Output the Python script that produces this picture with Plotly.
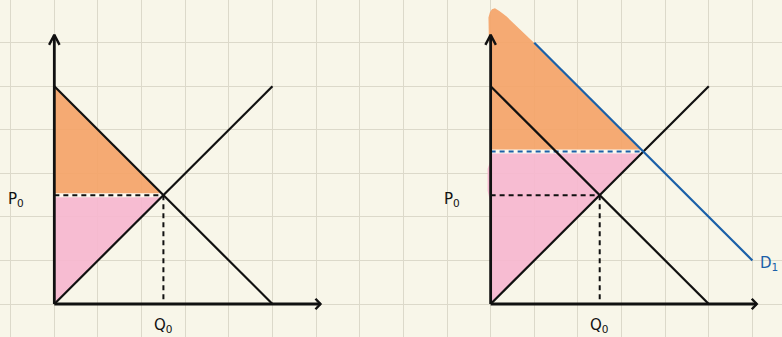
import plotly.graph_objects as go

# ---- data (panel-local coordinates: Q on x, P on y, in grid units) ----
demand_q = [0, 5]
demand_p = [5, 0]
supply_q = [0, 5]
supply_p = [0, 5]
demand1_q = [1, 6]
demand1_p = [6, 1]
Q0, P0 = 2.5, 2.5
Q1, P1 = 3.5, 3.5
panel_offsets = [1, 11]          # left panel origin, right panel origin (grid units)
axis_len_x = 6.1
axis_len_y = 6.18

# hand-drawn shaded areas
cs_left_q = [0, 0, Q0]
cs_left_p = [5, P0, P0]
ps_left_q = [0, Q0, 0]
ps_left_p = [P0, P0, 0]
cs_right_q = [0, 0, -0.04, -0.055, -0.05, -0.016, 0.03, 0.099, 0.2, 0.367, 0.52, 0.672, 0.97, Q1]
cs_right_p = [P1, 5.9, 6.06, 6.41, 6.58, 6.70, 6.77, 6.79, 6.73, 6.60, 6.45, 6.29, 6.02, P1]
ps_right_q = [0, Q1, 0, 0, -0.07, -0.07, 0]
ps_right_p = [P1, P1, 0, 2.3, 2.6, 3.1, 3.3]

BG = "#f8f6e9"
GRID = "#dcd9ca"
ORANGE = "rgba(244,164,105,0.93)"
PINK = "rgba(246,183,208,0.93)"
BLUE = "#1b60a8"
BLACK = "#111111"

fig = go.Figure()


def sh(q, off):
    return [v + off for v in q]


def add_line(q, p, off, color=BLACK, width=2.2, dash=None):
    fig.add_trace(go.Scatter(x=sh(q, off), y=p, mode="lines",
                             line=dict(color=color, width=width, dash=dash, shape="linear"),
                             hoverinfo="skip", showlegend=False))


def add_fill(q, p, off, color, smooth=False):
    fig.add_trace(go.Scatter(x=sh(q, off), y=p, mode="lines", fill="toself",
                             fillcolor=color, line=dict(width=0),
                             hoverinfo="skip", showlegend=False))


L, R = panel_offsets

# fills
add_fill(cs_left_q, cs_left_p, L, ORANGE)
add_fill(ps_left_q, ps_left_p, L, PINK)
add_fill(cs_right_q, cs_right_p, R, ORANGE)
add_fill(ps_right_q, ps_right_p, R, PINK)

# light gap along the price lines
add_line([0, Q0], [P0, P0], L, color="#fbf8ef", width=4)
add_line([0, Q1], [P1, P1], R, color="#fbf8ef", width=4)

# dashed guides
dash = "5px,4px"
add_line([0, Q0], [P0, P0], L, dash=dash, width=2)
add_line([Q0, Q0], [P0, 0], L, dash=dash, width=2)
add_line([0, Q0], [P0, P0], R, dash=dash, width=2)
add_line([Q0, Q0], [P0, 0], R, dash=dash, width=2)
add_line([0, Q1], [P1, P1], R, color=BLUE, dash=dash, width=2)

# curves
for off in panel_offsets:
    add_line(demand_q, demand_p, off)
    add_line(supply_q, supply_p, off)
add_line(demand1_q, demand1_p, R, color=BLUE)

# axes with open arrowheads
ah_back, ah_half = 0.115, 0.12
for off in panel_offsets:
    add_line([0, 0], [0, axis_len_y], off, width=2.8)
    add_line([0, axis_len_x], [0, 0], off, width=2.8)
    add_line([-ah_half, 0, ah_half], [axis_len_y - 0.23, axis_len_y, axis_len_y - 0.23], off, width=2.4)
    add_line([axis_len_x - ah_back, axis_len_x, axis_len_x - ah_back], [ah_half, 0, -ah_half], off, width=2.4)

# labels
font = dict(family="DejaVu Sans", size=15, color=BLACK)
for off in panel_offsets:
    fig.add_annotation(x=off - 0.88, y=P0 - 0.1, text="P<sub>0</sub>", showarrow=False, font=font)
    fig.add_annotation(x=off + Q0, y=-0.5, text="Q<sub>0</sub>", showarrow=False, font=font)
fig.add_annotation(x=R + 6.38, y=0.94, text="D<sub>1</sub>", showarrow=False,
                   font=dict(family="DejaVu Sans", size=15, color=BLUE))

fig.update_layout(
    width=782, height=337,
    margin=dict(l=0, r=0, t=0, b=0),
    paper_bgcolor=BG, plot_bgcolor=BG,
    xaxis=dict(range=[-10.7 / 43.63, (782 - 10.7) / 43.63], dtick=1, tick0=0,
               showgrid=True, gridcolor=GRID, gridwidth=1.3, zeroline=False,
               showticklabels=False, ticks="", fixedrange=True),
    yaxis=dict(range=[(304 - 337) / 43.55, 304 / 43.55], dtick=1, tick0=0,
               showgrid=True, gridcolor=GRID, gridwidth=1.3, zeroline=False,
               showticklabels=False, ticks="", fixedrange=True),
)

fig.write_html(
    "out.html",
    config={"displayModeBar": False},
    post_script="document.body.style.margin='0';document.body.style.overflow='hidden';",
)
